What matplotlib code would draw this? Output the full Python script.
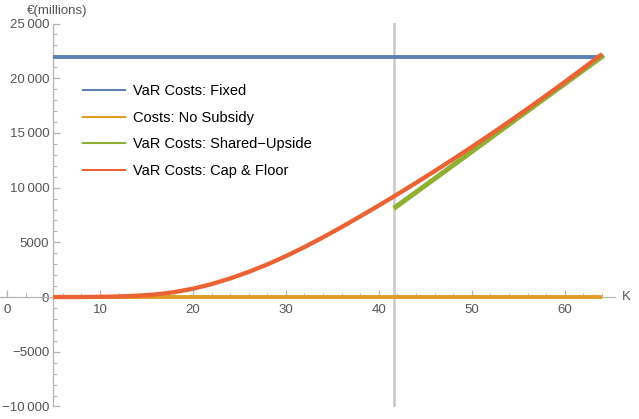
import matplotlib.pyplot as plt
from matplotlib.ticker import MultipleLocator, FuncFormatter

plt.rcParams["font.family"] = ["Liberation Sans", "DejaVu Sans"]

# Data (K in units, costs in € millions)
k_fixed = [5, 64]
fixed_costs = [21900, 21900]

k_nosub = [5, 64]
nosub_costs = [0, 0]

k_shared = [41.6, 45, 50, 55, 60, 64.2]
shared_costs = [8100, 10200, 13300, 16400, 19500, 22100]

k_cap = [5, 8, 10, 12, 14, 16, 18, 20, 22, 24, 26, 28, 30, 32, 34, 36, 38, 40,
         42, 44, 46, 48, 50, 52, 54, 56, 58, 60, 62, 64]
cap_costs = [0, 5, 20, 55, 120, 240, 450, 760, 1180, 1700, 2300, 2980, 3740,
             4570, 5460, 6400, 7375, 8374, 9396, 10442, 11512, 12605, 13722,
             14863, 16028, 17216, 18428, 19664, 20923, 22206]

k_barrier = 41.6

labels = ["VaR Costs: Fixed", "Costs: No Subsidy",
          "VaR Costs: Shared\u2212Upside", "VaR Costs: Cap & Floor"]
colors = ["#5E81B5", "#E19C24", "#8FB032", "#EB6235"]

W, H = 639, 419
fig = plt.figure(figsize=(W / 100, H / 100), dpi=100)
ax = fig.add_axes([0 / W, (H - 407) / H, 615 / W, 384 / H])

ax.axvline(k_barrier, color="#c8c8c8", lw=1.8, zorder=1)

ax.plot(k_fixed, fixed_costs, color=colors[0], lw=2.8, solid_capstyle="butt", zorder=3)
ax.plot(k_nosub, nosub_costs, color=colors[1], lw=2.8, solid_capstyle="butt", zorder=3)
ax.plot(k_shared, shared_costs, color=colors[2], lw=3.6, solid_capstyle="butt", zorder=4)
ax.plot(k_cap, cap_costs, color=colors[3], lw=3.1, solid_capstyle="butt", zorder=5)

ax.set_xlim(-0.75, 65.4)
ax.set_ylim(-10050, 25050)

ax.spines["top"].set_visible(False)
ax.spines["right"].set_visible(False)
ax.spines["left"].set_position(("data", 5))
ax.spines["bottom"].set_position(("data", 0))
for s in ("left", "bottom"):
    ax.spines[s].set_color("#b3b3b3")
    ax.spines[s].set_linewidth(0.9)
ax.spines["left"].set_bounds(-10000, 25000)

ax.xaxis.set_major_locator(MultipleLocator(10))
ax.xaxis.set_minor_locator(MultipleLocator(2))
ax.yaxis.set_major_locator(MultipleLocator(5000))
ax.yaxis.set_minor_locator(MultipleLocator(1000))


def fmt(v, pos):
    v = int(round(v))
    s = f"{abs(v)}"
    if abs(v) >= 10000:
        s = f"{abs(v) // 1000}\u2009{abs(v) % 1000:03d}"
    return ("\u2212" if v < 0 else "") + s


ax.yaxis.set_major_formatter(FuncFormatter(fmt))
ax.xaxis.set_major_formatter(FuncFormatter(lambda v, p: f"{int(v)}"))

ax.tick_params(axis="both", which="both", direction="in", color="#b3b3b3",
               labelcolor="#555555", labelsize=9.5)
ax.tick_params(axis="both", which="major", length=5, width=0.9)
ax.tick_params(axis="both", which="minor", length=3, width=0.7)
ax.tick_params(axis="x", pad=5)
ax.tick_params(axis="y", pad=3)

ax.text(27 / W, (H - 11) / H, "\u20ac(millions)", transform=fig.transFigure,
        fontsize=9.5, color="#555555", va="center", ha="left")
ax.text(622 / W, (H - 297) / H, "K", transform=fig.transFigure,
        fontsize=9.5, color="#555555", va="center", ha="left")

handles = [plt.Line2D([], [], color=c, lw=1.5) for c in colors]
leg = fig.legend(handles, labels, loc="upper left",
                 bbox_to_anchor=(70 / W, (H - 71) / H), frameon=False,
                 fontsize=10.5, handlelength=2.9, handletextpad=0.55,
                 labelspacing=0.86)

fig.savefig("out.png", dpi=100)
